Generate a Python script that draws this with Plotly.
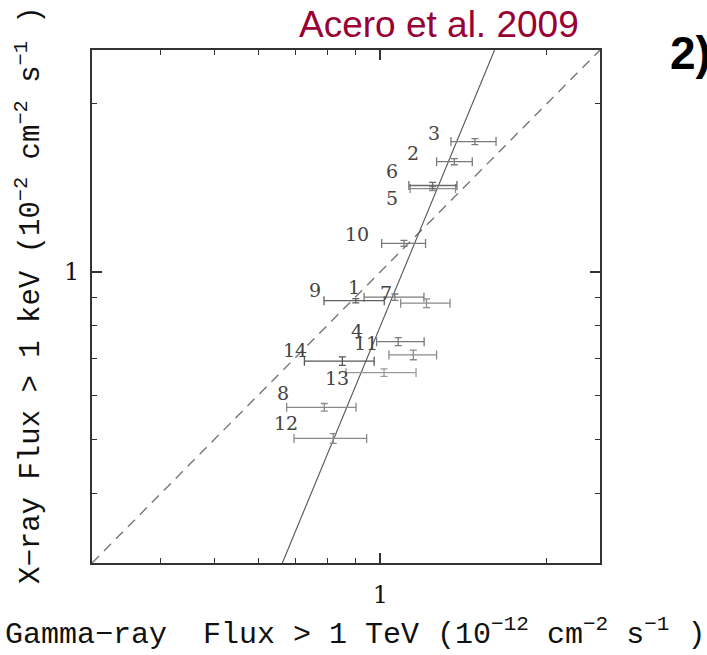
import numpy as np
import plotly.graph_objects as go

# ---- data ----
labels     = ["1", "2", "3", "4", "5", "6", "7", "8", "9", "10", "11", "12", "13", "14"]
gamma_flux = [1.062, 1.361, 1.483, 1.077, 1.243, 1.243, 1.212, 0.791, 0.902, 1.103, 1.147, 0.821, 1.015, 0.853]
gamma_lo   = [0.934, 1.264, 1.342, 0.984, 1.132, 1.126, 1.088, 0.676, 0.790, 1.005, 1.036, 0.697, 0.866, 0.728]
gamma_hi   = [1.199, 1.467, 1.620, 1.200, 1.368, 1.376, 1.337, 0.903, 1.016, 1.207, 1.264, 0.944, 1.160, 0.974]
xray_flux  = [0.900, 1.576, 1.712, 0.749, 1.410, 1.428, 0.878, 0.571, 0.887, 1.124, 0.709, 0.502, 0.659, 0.691]
xray_err   = [0.012, 0.020, 0.021, 0.0125, 0.012, 0.018, 0.016, 0.009, 0.008, 0.014, 0.014, 0.010, 0.010, 0.012]

fit_x = [0.664, 1.61]
fit_y = [0.30, 2.50]
equal_x = [0.30, 2.50]
equal_y = [0.30, 2.50]

x_range = [0.3, 2.5]
y_range = [0.3, 2.5]
major_ticks = [1]
major_text = ["1"]
minor_ticks = [0.4, 0.5, 0.6, 0.7, 0.8, 0.9, 2]

# ---- styling ----
bar_colors = ["#7a7a7a", "#7a7a7a", "#7a7a7a", "#7a7a7a", "#8a8a8a", "#6a6a6a", "#8a8a8a",
              "#8a8a8a", "#5f5f5f", "#7a7a7a", "#8a8a8a", "#8a8a8a", "#9a9a9a", "#555555"]
label_dy = [10, 9, 9, 11, -9, 15, 10, 14, 11, 9, 12, 15, -5, 11]

fig = go.Figure()

fig.add_trace(go.Scatter(x=equal_x, y=equal_y, mode="lines",
                         line=dict(color="#777777", width=1.4, dash="10px,7px"),
                         showlegend=False, hoverinfo="skip"))
fig.add_trace(go.Scatter(x=fit_x, y=fit_y, mode="lines",
                         line=dict(color="#555555", width=1.1),
                         showlegend=False, hoverinfo="skip"))

for i in range(len(labels)):
    fig.add_trace(go.Scatter(
        x=[gamma_flux[i]], y=[xray_flux[i]], mode="markers",
        marker=dict(size=1, color="rgba(0,0,0,0)"),
        error_x=dict(type="data", symmetric=False,
                     array=[gamma_hi[i] - gamma_flux[i]],
                     arrayminus=[gamma_flux[i] - gamma_lo[i]],
                     color=bar_colors[i], thickness=1.3, width=4.5),
        error_y=dict(type="data", array=[xray_err[i]],
                     color=bar_colors[i], thickness=1.3, width=3.5),
        showlegend=False, name=labels[i]))
    fig.add_annotation(x=np.log10(gamma_flux[i]), y=np.log10(xray_flux[i]),
                       xref="x", yref="y", text=labels[i], showarrow=False,
                       xanchor="right", yanchor="middle", xshift=-33, yshift=label_dy[i],
                       font=dict(family="DejaVu Serif", size=19, color="#444444"))

fig.add_annotation(xref="paper", yref="paper", x=(355 - 92) / 508, y=(563 - 632) / 513,
                   text="Gamma−ray  Flux > 1 TeV (10<sup>−12</sup> cm<sup>−2</sup> s<sup>−1</sup> )",
                   showarrow=False, xanchor="center", yanchor="middle",
                   font=dict(family="Liberation Mono", size=30, color="#111111"))
fig.add_annotation(xref="paper", yref="paper", x=(29 - 92) / 508, y=(563 - 295) / 513,
                   text="X−ray Flux > 1 keV (10<sup>−2</sup> cm<sup>−2</sup> s<sup>−1</sup> )",
                   showarrow=False, xanchor="center", yanchor="middle", textangle=-90,
                   font=dict(family="Liberation Mono", size=29, color="#111111"))
fig.add_annotation(xref="paper", yref="paper", x=(439 - 92) / 508, y=(563 - 25) / 513,
                   text="Acero et al. 2009", showarrow=False, xanchor="center", yanchor="middle",
                   font=dict(family="Liberation Sans", size=37, color="#990033"))
fig.add_annotation(xref="paper", yref="paper", x=(668 - 92) / 508, y=(563 - 53) / 513,
                   text="<b>2)</b>", showarrow=False, xanchor="left", yanchor="middle",
                   font=dict(family="Liberation Sans", size=46, color="#000000"))

axis_common = dict(
    type="log", showgrid=False, zeroline=False,
    showline=True, linewidth=2, linecolor="#333333", mirror="ticks",
    ticks="inside", ticklen=10, tickwidth=1.6, tickcolor="#333333",
    tickmode="array", tickvals=major_ticks, ticktext=major_text,
    tickfont=dict(family="DejaVu Serif", size=24, color="#111111"),
    minor=dict(tickmode="array", tickvals=minor_ticks, ticks="inside",
               ticklen=5, tickwidth=1.4, tickcolor="#333333", showgrid=False),
)

fig.update_xaxes(range=[np.log10(x_range[0]), np.log10(x_range[1])],
                 ticklabelstandoff=9, **axis_common)
fig.update_yaxes(range=[np.log10(y_range[0]), np.log10(y_range[1])],
                 ticklabelstandoff=6, **axis_common)

fig.update_layout(width=707, height=655,
                  margin=dict(l=92, r=107, t=50, b=92),
                  paper_bgcolor="white", plot_bgcolor="white",
                  showlegend=False)

fig.write_html("out.html")
